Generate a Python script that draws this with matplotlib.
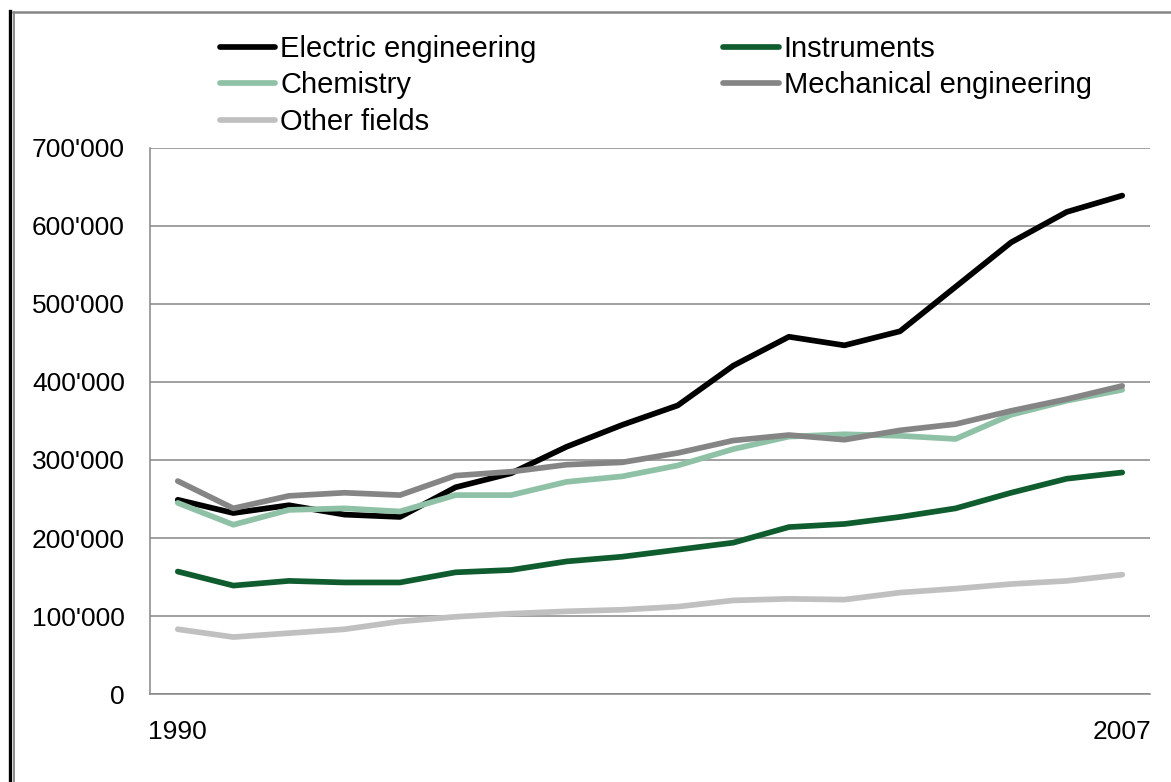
import matplotlib
matplotlib.use("Agg")
import matplotlib.pyplot as plt
from matplotlib.lines import Line2D
from matplotlib.ticker import FuncFormatter, FixedLocator

plt.rcParams['font.family'] = ['Liberation Sans', 'DejaVu Sans']

years = list(range(1990, 2008))
electric = [249, 232, 242, 230, 227, 265, 283, 317, 345, 370, 421, 458, 447, 465, 522, 579, 618, 639]
instruments = [157, 139, 145, 143, 143, 156, 159, 170, 176, 185, 194, 214, 218, 227, 238, 258, 276, 284]
chemistry = [245, 217, 236, 238, 234, 255, 255, 272, 279, 293, 314, 330, 333, 331, 327, 358, 376, 390]
mechanical = [273, 238, 254, 258, 255, 280, 285, 294, 297, 309, 325, 332, 326, 338, 346, 363, 378, 395]
other = [83, 73, 78, 83, 93, 99, 103, 106, 108, 112, 120, 122, 121, 130, 135, 141, 145, 153]
series_names = ["Electric engineering", "Instruments", "Chemistry", "Mechanical engineering", "Other fields"]
colors = ["#000000", "#0F5C2E", "#8FC1A6", "#858585", "#C0C0C0"]
x_tick_labels = ["1990", "2007"]

W, H = 1171, 782
fig = plt.figure(figsize=(W / 100, H / 100), dpi=100)
ax = fig.add_axes([150 / W, (H - 694) / H, 1000 / W, 546 / H])

xs = list(range(len(years)))
lines = {}
for name, vals, c in zip(series_names, [electric, instruments, chemistry, mechanical, other], colors):
    (ln,) = ax.plot(xs, [v * 1000 for v in vals], color=c, lw=4.1,
                    solid_capstyle='round', solid_joinstyle='round', label=name, zorder=3)
    lines[name] = ln

ax.set_xlim(-0.5, len(years) - 0.5)
ax.set_ylim(0, 700000)
ax.yaxis.set_major_locator(FixedLocator([i * 100000 for i in range(8)]))
ax.yaxis.set_major_formatter(FuncFormatter(lambda v, p: "0" if v == 0 else f"{int(v):,}".replace(",", "'")))
ax.set_xticks([0, len(years) - 1])
ax.set_xticklabels(x_tick_labels)
ax.tick_params(axis='both', length=0, labelsize=19, colors='black')
ax.tick_params(axis='y', pad=18)
ax.tick_params(axis='x', pad=19)
ax.grid(axis='y', color='#868686', lw=1.1, zorder=1)
for s in ['top', 'right']:
    ax.spines[s].set_visible(False)
for s in ['left', 'bottom']:
    ax.spines[s].set_color('#868686')
    ax.spines[s].set_linewidth(1.1)

order = ["Electric engineering", "Chemistry", "Other fields", "Instruments", "Mechanical engineering"]
leg = fig.legend([lines[n] for n in order], order, ncol=2, loc='upper left',
                 bbox_to_anchor=(220 / W, 1 - 35 / H), frameon=False, fontsize=21,
                 handlelength=1.9, handletextpad=0.17, columnspacing=6.4,
                 labelspacing=0.29, borderaxespad=0, borderpad=0)

# outer frame remnants
fig.add_artist(Line2D([10 / W, 10 / W], [0, 1 - 11 / H], transform=fig.transFigure, color='black', lw=2.4))
fig.add_artist(Line2D([13.5 / W, 13.5 / W], [0, 1 - 12 / H], transform=fig.transFigure, color='#868686', lw=1.3))
fig.add_artist(Line2D([13 / W, 1], [1 - 12 / H, 1 - 12 / H], transform=fig.transFigure, color='#868686', lw=1.8))

fig.savefig("out.png", dpi=100)
